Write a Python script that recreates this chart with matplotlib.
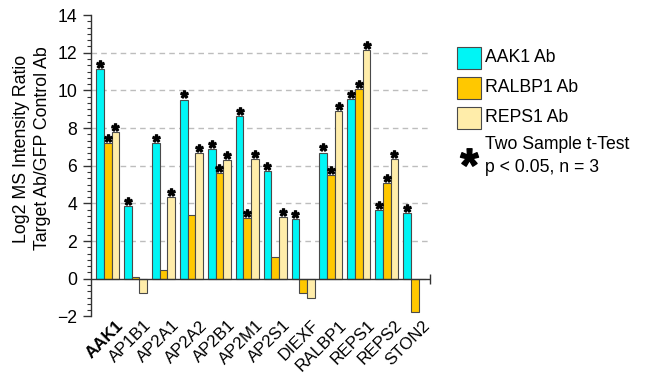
import matplotlib
matplotlib.use("Agg")
import matplotlib.pyplot as plt
import numpy as np
from matplotlib.lines import Line2D
from matplotlib.patches import Rectangle
from matplotlib.transforms import ScaledTranslation

plt.rcParams["font.family"] = ["Liberation Sans", "DejaVu Sans"]
plt.rcParams["mathtext.fontset"] = "custom"
plt.rcParams["mathtext.bf"] = "Liberation Sans:bold"
plt.rcParams["mathtext.rm"] = "Liberation Sans"

genes = ["AAK1", "AP1B1", "AP2A1", "AP2A2", "AP2B1", "AP2M1", "AP2S1",
         "DIEXF", "RALBP1", "REPS1", "REPS2", "STON2"]
aak1 = [11.15, 3.85, 7.18, 9.51, 6.86, 8.64, 5.71, 3.17, 6.70, 9.55, 3.64, 3.47]
ralbp1 = [7.18, 0.10, 0.48, 3.38, 5.59, 3.20, 1.13, -0.77, 5.52, 10.06, 5.09, -1.75]
reps1 = [7.79, -0.77, 4.35, 6.68, 6.29, 6.36, 3.29, -1.04, 8.88, 12.16, 6.36, 0.0]
# significance flags (p < 0.05)
aak1_sig = [1, 1, 1, 1, 1, 1, 1, 1, 1, 1, 1, 1]
ralbp1_sig = [1, 0, 0, 0, 1, 1, 0, 0, 1, 1, 1, 0]
reps1_sig = [1, 0, 1, 1, 1, 1, 1, 0, 1, 1, 1, 0]

series = [("AAK1 Ab", aak1, aak1_sig, "#00F5F5"),
          ("RALBP1 Ab", ralbp1, ralbp1_sig, "#FFC800"),
          ("REPS1 Ab", reps1, reps1_sig, "#FFEDAA")]

fig = plt.figure(figsize=(6.45, 3.75), dpi=100)
ax = fig.add_axes([0.1411, 0.1563, 0.5256, 0.8037])

x = np.arange(len(genes))
w = 0.275
edge = "#4a4a4a"
star = r"$\mathbf{*}$"

for k, (name, vals, sig, col) in enumerate(series):
    pos = x + (k - 1) * w
    vals = np.array(vals)
    ax.bar(pos, vals, w, color=col, edgecolor=edge, linewidth=0.8, zorder=3)
    sig = np.array(sig, dtype=bool) & (vals > 0)
    ax.plot(pos[sig], vals[sig] + 0.27, ls="none", marker=star, ms=5.4,
            color="black", zorder=4)

ax.set_xlim(-0.6, 11.55)
ax.set_ylim(-2, 14)

for yv in range(2, 14, 2):
    ax.axhline(yv, color="#bdbdbd", lw=1.0, ls=(0, (4, 3)), zorder=1)
ax.axhline(0, color="#333333", lw=1.0, zorder=5)
ax.plot([1], [0], marker="|", ms=7, mew=1.0, color="#333333",
        transform=ax.get_yaxis_transform(), clip_on=False, zorder=5)

for s in ["top", "right", "bottom"]:
    ax.spines[s].set_visible(False)
ax.spines["left"].set_color("#333333")
ax.spines["left"].set_linewidth(1.0)

ax.set_yticks(range(-2, 15, 2))
ax.set_yticks(np.arange(-2, 14.01, 2 / 6), minor=True)
ax.tick_params(axis="y", which="major", length=6, width=1.0, color="#333333",
               labelsize=12.7, pad=4)
ax.tick_params(axis="y", which="minor", length=3, width=0.8, color="#333333")

ax.set_xticks(x)
ax.set_xticklabels(genes, rotation=45, ha="right", rotation_mode="anchor",
                   fontsize=12.2)
ax.tick_params(axis="x", length=0, pad=1)
shift = ScaledTranslation(8 / 100, 0, fig.dpi_scale_trans)
for lbl in ax.get_xticklabels():
    lbl.set_transform(lbl.get_transform() + shift)
ax.get_xticklabels()[0].set_fontweight("bold")

fig.text(0.05, 1 - 148.5 / 375, "Log2 MS Intensity Ratio\nTarget Ab/GFP Control Ab",
         rotation=90, ha="center", va="center", multialignment="center",
         fontsize=12.8, linespacing=1.28)

# legend
for k, (name, vals, sig, col) in enumerate(series):
    y0 = 375 - 69 - 30 * k
    fig.patches.append(Rectangle((457 / 645, y0 / 375), 24 / 645, 22 / 375,
                                 transform=fig.transFigure, facecolor=col,
                                 edgecolor=edge, linewidth=0.8))
    fig.text(485 / 645, (y0 + 11) / 375, name, ha="left", va="center",
             fontsize=12.7)
fig.add_artist(Line2D([469 / 645], [1 - 157 / 375], transform=fig.transFigure,
                      marker=star, ms=13, color="black", ls="none"))
fig.text(485 / 645, 1 - 156 / 375, "Two Sample t-Test\np < 0.05, n = 3",
         ha="left", va="center", fontsize=12.7, linespacing=1.5)

fig.savefig("out.png", dpi=100)
